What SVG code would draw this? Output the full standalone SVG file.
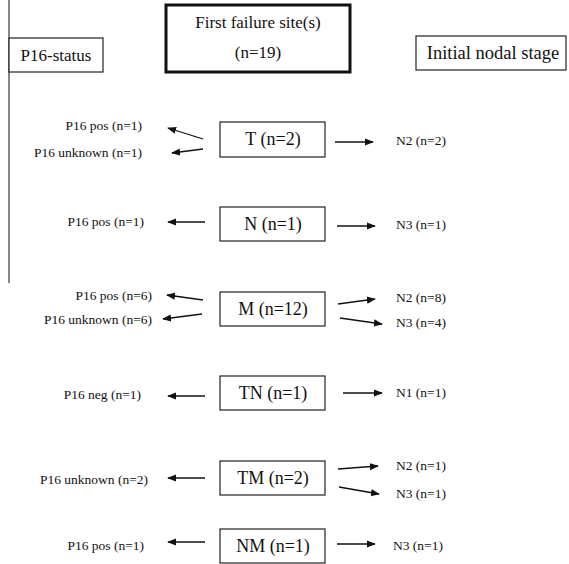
<svg xmlns="http://www.w3.org/2000/svg" width="569" height="564" viewBox="0 0 569 564">
<style>
text{font-family:"Liberation Serif","DejaVu Serif",serif;fill:#111}
.hd{font-size:17px}
.nd{font-size:18px;text-anchor:middle}
.lb{font-size:13.5px;text-anchor:end}
.rb{font-size:13.5px}
.box{fill:#fff;stroke:#222;stroke-width:1.2}
.ar{stroke:#111;stroke-width:1.3;fill:none;marker-end:url(#ah)}
</style>
<defs>
<marker id="ah" viewBox="0 0 10 10" refX="9" refY="5" markerWidth="9" markerHeight="9" markerUnits="userSpaceOnUse" orient="auto">
<path d="M0,1 L10,5 L0,9 Z" fill="#111"/>
</marker>
</defs>
<rect width="569" height="564" fill="#fff"/>
<line x1="9" y1="0" x2="9" y2="283" stroke="#444" stroke-width="1.3"/>
<g id="p16-status">
<rect class="box" x="9" y="38" width="94" height="34"/>
<text class="hd" x="56" y="61" text-anchor="middle">P16-status</text>
</g>
<g id="first-failure">
<rect x="166" y="5" width="184" height="67" fill="#fff" stroke="#111" stroke-width="3"/>
<text class="hd" x="258" y="28" text-anchor="middle">First failure site(s)</text>
<text class="hd" x="258" y="58" text-anchor="middle">(n=19)</text>
</g>
<g id="nodal-stage">
<rect class="box" x="416" y="36" width="150" height="34"/>
<text class="hd" x="493" y="59" text-anchor="middle" style="font-size:18.5px">Initial nodal stage</text>
</g>
<g id="T">
<rect class="box" x="220" y="122" width="105" height="35"/>
<text class="nd" x="273" y="145">T (n=2)</text>
</g>
<g id="N">
<rect class="box" x="220" y="207" width="105" height="34"/>
<text class="nd" x="273" y="230">N (n=1)</text>
</g>
<g id="M">
<rect class="box" x="220" y="292" width="105" height="34"/>
<text class="nd" x="273" y="315">M (n=12)</text>
</g>
<g id="TN">
<rect class="box" x="220" y="376" width="105" height="34"/>
<text class="nd" x="273" y="399">TN (n=1)</text>
</g>
<g id="TM">
<rect class="box" x="220" y="461" width="105" height="34"/>
<text class="nd" x="273" y="484">TM (n=2)</text>
</g>
<g id="NM">
<rect class="box" x="220" y="529" width="105" height="34"/>
<text class="nd" x="273" y="552">NM (n=1)</text>
</g>
<g id="labels">
<text class="lb" x="142" y="130">P16 pos (n=1)</text>
<text class="lb" x="142" y="157">P16 unknown (n=1)</text>
<text class="lb" x="144" y="226">P16 pos (n=1)</text>
<text class="lb" x="152" y="300">P16 pos (n=6)</text>
<text class="lb" x="152" y="324">P16 unknown (n=6)</text>
<text class="lb" x="141" y="399">P16 neg (n=1)</text>
<text class="lb" x="148" y="484">P16 unknown (n=2)</text>
<text class="lb" x="144" y="550">P16 pos (n=1)</text>
<text class="rb" x="396" y="145">N2 (n=2)</text>
<text class="rb" x="396" y="229">N3 (n=1)</text>
<text class="rb" x="396" y="302">N2 (n=8)</text>
<text class="rb" x="396" y="327">N3 (n=4)</text>
<text class="rb" x="396" y="397">N1 (n=1)</text>
<text class="rb" x="396" y="470">N2 (n=1)</text>
<text class="rb" x="396" y="498">N3 (n=1)</text>
<text class="rb" x="393" y="550">N3 (n=1)</text>
</g>
<g id="connectors">
<line class="ar" x1="203" y1="139" x2="168" y2="128"/>
<line class="ar" x1="203" y1="149" x2="172" y2="153"/>
<line class="ar" x1="335" y1="142" x2="373" y2="142"/>
<line class="ar" x1="205" y1="222" x2="168" y2="222"/>
<line class="ar" x1="337" y1="226" x2="375" y2="226"/>
<line class="ar" x1="203" y1="300" x2="167" y2="295"/>
<line class="ar" x1="202" y1="314" x2="163" y2="319"/>
<line class="ar" x1="338" y1="304" x2="375" y2="299"/>
<line class="ar" x1="340" y1="318" x2="382" y2="324"/>
<line class="ar" x1="205" y1="396" x2="168" y2="396"/>
<line class="ar" x1="343" y1="393" x2="382" y2="393"/>
<line class="ar" x1="205" y1="478" x2="168" y2="478"/>
<line class="ar" x1="338" y1="469" x2="378" y2="466"/>
<line class="ar" x1="339" y1="487" x2="379" y2="494"/>
<line class="ar" x1="205" y1="542" x2="168" y2="542"/>
<line class="ar" x1="337" y1="544" x2="375" y2="544"/>
</g>
</svg>
